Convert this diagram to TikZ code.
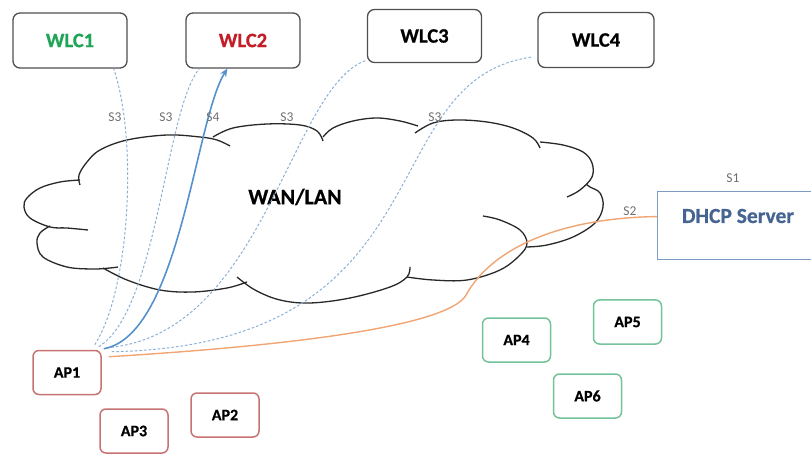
\documentclass[tikz,border=0pt]{standalone}
\usepackage{fontspec}
\setmainfont{Carlito}[BoldFeatures={FakeBold=0.6}]
\usetikzlibrary{arrows.meta}
\definecolor{boxgray}{RGB}{80,80,80}
\definecolor{apred}{RGB}{200,115,115}
\definecolor{apgreen}{RGB}{115,195,155}
\definecolor{dashblue}{RGB}{140,175,215}
\definecolor{sfourblue}{RGB}{85,145,205}
\definecolor{orangeln}{RGB}{240,165,115}
\definecolor{dhcpborder}{RGB}{125,155,195}
\definecolor{dhcptext}{RGB}{70,100,145}
\definecolor{wlcgreen}{RGB}{30,165,85}
\definecolor{wlcred}{RGB}{195,30,40}
\definecolor{labelgray}{RGB}{110,110,110}
\definecolor{cloudblack}{RGB}{40,40,40}
\begin{document}
\begin{tikzpicture}[x=1pt,y=-1pt,
  wlcbox/.style={draw=boxgray, line width=1.3pt, rounded corners=7pt, fill=white,
    minimum width=114pt, minimum height=55pt, inner sep=0pt,
    font=\fontsize{20.5}{24}\selectfont\bfseries},
  apbox/.style={line width=1.5pt, rounded corners=6pt, fill=white,
    minimum width=68pt, minimum height=44pt, inner sep=0pt,
    font=\fontsize{16}{19}\selectfont\bfseries},
  slabel/.style={text=labelgray, inner sep=0pt, font=\fontsize{13.5}{15}\selectfont},
  dashln/.style={draw=dashblue, line width=1pt, dash pattern=on 2.6pt off 2pt},
  sfourln/.style={draw=sfourblue, line width=1.6pt, -{Stealth[length=8pt,width=7pt]}},
  orangeline/.style={draw=orangeln, line width=1.4pt},
  cloudline/.style={draw=cloudblack, line width=1.3pt, smooth, tension=0.6}
]
\useasboundingbox (0,0) rectangle (811,454);

% cloud
\draw[cloudline] plot coordinates {(80,185) (79,175) (87,162) (100,150) (127,140) (167,135) (200,137) (217,140) (230,146)};
\draw[cloudline] plot coordinates {(80,180) (60,182) (40,188) (27,198) (24,207) (30,218) (50,227) (67,228) (88,230)};
\draw[cloudline] plot coordinates {(50,226) (40,233) (37,243) (43,257) (67,267) (93,269) (110,268) (118,267)};
\draw[cloudline] plot coordinates {(103,268) (127,280) (160,290) (193,292) (227,288) (247,282)};
\draw[cloudline] plot coordinates {(237,277) (255,290) (280,300) (310,303) (350,298) (390,287) (407,277) (410,267)};
\draw[cloudline] plot coordinates {(407,277) (433,280) (467,280) (500,270) (520,255) (527,243) (520,230) (500,220) (483,216)};
\draw[cloudline] plot coordinates {(527,247) (547,245) (573,237) (595,223) (603,207) (600,193) (590,187) (586,184)};
\draw[cloudline] plot coordinates {(567,197) (580,190) (592,177) (592,163) (583,152) (563,145) (540,142)};
\draw[cloudline] plot coordinates {(540,148) (533,138) (513,128) (487,122) (457,120) (433,123) (415,133)};
\draw[cloudline] plot coordinates {(418,126) (400,121) (377,118) (353,121) (333,128) (323,137)};
\draw[cloudline] plot coordinates {(213,137) (233,128) (267,124) (300,125) (317,131) (323,141)};
\node[inner sep=0pt, font=\fontsize{22}{26}\selectfont\bfseries] (wan) at (295,197) {WAN/LAN};

% nodes
\node[wlcbox, text=wlcgreen] (wlc1) at (70,40.5) {WLC1};
\node[wlcbox, text=wlcred] (wlc2) at (243,40.5) {WLC2};
\node[wlcbox, minimum height=53pt] (wlc3) at (424.5,36) {WLC3};
\node[wlcbox, minimum width=116pt] (wlc4) at (596,40) {WLC4};

\node[apbox, draw=apred] (ap1) at (67,372.5) {AP1};
\node[apbox, draw=apred] (ap3) at (134,431) {AP3};
\node[apbox, draw=apred] (ap2) at (225,415) {AP2};
\node[apbox, draw=apgreen] (ap4) at (516.5,340) {AP4};
\node[apbox, draw=apgreen] (ap5) at (627.5,322) {AP5};
\node[apbox, draw=apgreen] (ap6) at (587.5,396) {AP6};

\node[draw=dhcpborder, line width=1.1pt, fill=white, minimum width=166pt, minimum height=68pt,
  inner sep=0pt, anchor=north west] (dhcp) at (657,191) {};
\node[inner sep=0pt, text=dhcptext, font=\fontsize{21.5}{25}\selectfont\bfseries] (dhcptxt) at (738,216) {DHCP Server};

% connectors
\draw[dashln] ([shift={(-7pt,5pt)}]ap1.north east) .. controls (130,290) and (138,140) .. ([xshift=-14pt]wlc1.south east);
\draw[dashln] ([shift={(-3pt,3pt)}]ap1.north east) .. controls (158,310) and (165,110) .. ([xshift=14pt]wlc2.south west);
\draw[dashln] ([shift={(5pt,2pt)}]ap1.north east) .. controls (265,335) and (290,85) .. ([yshift=3pt]wlc3.south west);
\draw[dashln] ([shift={(10pt,-2pt)}]ap1.north east) .. controls (450,345) and (370,80) .. ([shift={(-6pt,11pt)}]wlc4.south west);
\draw[sfourln] ([shift={(2pt,1pt)}]ap1.north east) .. controls (180,335) and (195,120) .. ([xshift=42pt]wlc2.south west);
\draw[orangeline] ([yshift=9pt]dhcp.west) .. controls (560,218) and (492,248) .. (466,295)
  .. controls (453,319) and (350,342) .. ([shift={(7pt,-7pt)}]ap1.north east);

% labels
\node[slabel] (s3a) at (115,117) {S3};
\node[slabel] (s3b) at (166,117) {S3};
\node[slabel] (s4) at (213,117) {S4};
\node[slabel] (s3c) at (287,117) {S3};
\node[slabel] (s3d) at (435,117) {S3};
\node[slabel] (s1) at (733,178) {S1};
\node[slabel] (s2) at (630,211) {S2};
\end{tikzpicture}
\end{document}
